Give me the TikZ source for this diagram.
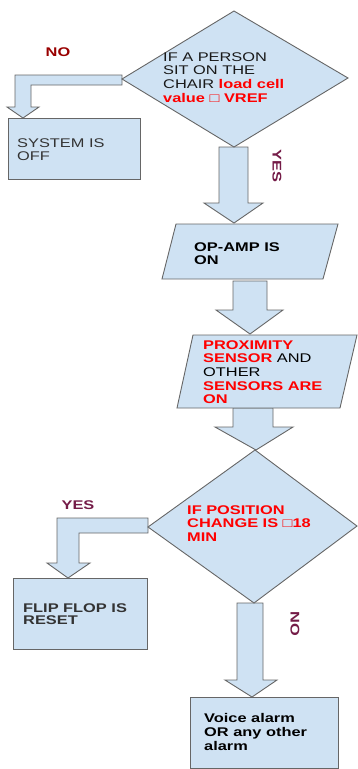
\documentclass[tikz,border=0pt]{standalone}
\usepackage{fontspec}
\setmainfont{Liberation Sans}[FakeStretch=1.3]
\definecolor{boxfill}{HTML}{CFE2F3}
\definecolor{edge}{HTML}{666666}
\definecolor{darkred}{HTML}{990000}
\definecolor{plum}{HTML}{741B47}
\definecolor{txtgray}{HTML}{333333}
\definecolor{red}{HTML}{FF0000}
\begin{document}
\begin{tikzpicture}[x=1pt,y=-1pt,
  shp/.style={fill=boxfill,draw=edge,line width=0.9pt,line join=miter},
  txt/.style={anchor=north west,inner sep=0pt,align=left,font=\fontsize{12.6}{13.7}\selectfont},
  lbl/.style={inner sep=0pt,font=\fontsize{12.6}{13.7}\selectfont\bfseries}]
\useasboundingbox (0,0) rectangle (358,769);
% named corner coordinates
\coordinate (d1t) at (234,11);  \coordinate (d1r) at (348,78);
\coordinate (d1b) at (234,147); \coordinate (d1l) at (122,79);
\coordinate (d2t) at (255,450); \coordinate (d2r) at (357,526);
\coordinate (d2b) at (254,603); \coordinate (d2l) at (148,527);
% block arrows
\draw[shp] (d1l |- 0,75) -- (15,75) -- (15,107) -- (7,107) -- (23,118) -- (39,107) -- (31,107) -- (31,85) -- (d1l |- 0,85) -- cycle;
\draw[shp] (219,147) -- (248,147) -- (248,203) -- (263,203) -- (234,223) -- (204,203) -- (219,203) -- cycle;
\draw[shp] (233,281) -- (267,281) -- (267,310) -- (283,310) -- (250,334) -- (216,310) -- (233,310) -- cycle;
\draw[shp] (233,408) -- (273,408) -- (273,427) -- (293,427) -- (256,450) -- (215,427) -- (233,427) -- cycle;
\draw[shp] (d2l |- 0,518) -- (57,518) -- (57,563) -- (47,563) -- (68,578) -- (90,563) -- (79,563) -- (79,533) -- (d2l |- 0,533) -- cycle;
\draw[shp] (237,603) -- (263,603) -- (263,680) -- (277,680) -- (252,697) -- (225,680) -- (237,680) -- cycle;
% shapes
\draw[shp] (d1t) -- (d1r) -- (d1b) -- (d1l) -- cycle;
\draw[shp] (8,118) rectangle (140,179);
\draw[shp] (176,224) -- (338,224) -- (323,279) -- (162,279) -- cycle;
\draw[shp] (193,335) -- (357,335) -- (340,408) -- (177,408) -- cycle;
\draw[shp] (d2t) -- (d2r) -- (d2b) -- (d2l) -- cycle;
\draw[shp] (13,578) rectangle (147,649);
\draw[shp] (190,697) rectangle (338,768);
% texts
\node[txt,text=black!90] (q1) at (163,52) {IF A PERSON\\SIT ON THE\\CHAIR \textcolor{red}{\bfseries load cell}\\\textcolor{red}{\bfseries value □ VREF}};
\node[txt,text=txtgray] (off) at (17,138) {SYSTEM IS\\OFF};
\node[txt,font=\fontsize{12.6}{13.3}\selectfont\bfseries] (op) at (194,242) {OP-AMP IS\\ON};
\node[txt] (prox) at (203,340) {\textcolor{red}{\bfseries PROXIMITY}\\\textcolor{red}{\bfseries SENSOR} AND\\OTHER\\\textcolor{red}{\bfseries SENSORS ARE}\\\textcolor{red}{\bfseries ON}};
\node[txt,text=red,font=\fontsize{12.6}{13.7}\selectfont\bfseries] (q2) at (187,505) {IF POSITION\\CHANGE IS □18\\MIN};
\node[txt,text=txtgray,font=\fontsize{12.6}{12.8}\selectfont\bfseries] (ff) at (23,603) {FLIP FLOP IS\\RESET};
\node[txt,font=\fontsize{12.6}{14}\selectfont\bfseries] (alarm) at (204,713) {Voice alarm\\OR any other\\alarm};
% labels
\node[lbl,text=darkred] (no1) at (58,52) {NO};
\node[lbl,text=plum,rotate=-90] (yes1) at (277,166) {YES};
\node[lbl,text=plum] (yes2) at (78,505) {YES};
\node[lbl,text=plum,rotate=-90] (no2) at (295,624) {NO};
\end{tikzpicture}
\end{document}
